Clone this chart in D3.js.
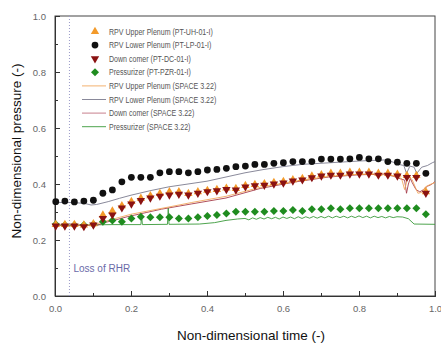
<!DOCTYPE html>
<html>
<head>
<meta charset="utf-8">
<script src="https://cdn.jsdelivr.net/npm/d3@7"></script>
<style>
  body { margin: 0; background: #fff; }
  svg text { font-family: "Liberation Sans", Arial, sans-serif; }
</style>
</head>
<body>
<div id="chart"></div>
<script>
// experiment sample times (non-dimensional)
const expTime = [0.002, 0.026, 0.051, 0.076, 0.101, 0.126, 0.151, 0.176, 0.201, 0.226,
  0.251, 0.276, 0.301, 0.326, 0.351, 0.376, 0.401, 0.426, 0.451, 0.476,
  0.501, 0.526, 0.551, 0.576, 0.601, 0.626, 0.651, 0.676, 0.701, 0.726,
  0.751, 0.776, 0.801, 0.826, 0.851, 0.876, 0.901, 0.926, 0.951, 0.976];

const upperPlenumExp = [0.255, 0.255, 0.255, 0.253, 0.258, 0.289, 0.303, 0.322, 0.337, 0.349,
  0.358, 0.366, 0.372, 0.372, 0.366, 0.372, 0.377, 0.380, 0.385, 0.384,
  0.394, 0.398, 0.401, 0.405, 0.409, 0.415, 0.419, 0.428, 0.433, 0.438,
  0.438, 0.442, 0.442, 0.442, 0.438, 0.438, 0.435, 0.430, 0.430, 0.372];

const lowerPlenumExp = [0.337, 0.339, 0.336, 0.339, 0.342, 0.367, 0.379, 0.408, 0.424, 0.424,
  0.424, 0.440, 0.444, 0.444, 0.440, 0.444, 0.450, 0.452, 0.456, 0.462,
  0.464, 0.470, 0.470, 0.474, 0.476, 0.480, 0.480, 0.480, 0.489, 0.489,
  0.489, 0.490, 0.495, 0.490, 0.490, 0.480, 0.478, 0.474, 0.474, 0.438];

const downcomerExp = [0.250, 0.250, 0.250, 0.248, 0.254, 0.277, 0.290, 0.315, 0.329, 0.341,
  0.350, 0.357, 0.361, 0.364, 0.361, 0.367, 0.373, 0.376, 0.381, 0.379,
  0.390, 0.394, 0.396, 0.400, 0.404, 0.411, 0.415, 0.423, 0.429, 0.432,
  0.432, 0.436, 0.436, 0.436, 0.432, 0.432, 0.429, 0.424, 0.424, 0.367];

const pressurizerExp = [0.256, 0.254, 0.254, 0.254, 0.256, 0.265, 0.270, 0.265, 0.277, 0.283,
  0.281, 0.281, 0.281, 0.277, 0.277, 0.281, 0.286, 0.289, 0.295, 0.301,
  0.301, 0.301, 0.301, 0.304, 0.304, 0.307, 0.304, 0.310, 0.310, 0.313,
  0.310, 0.313, 0.313, 0.313, 0.313, 0.313, 0.313, 0.313, 0.313, 0.292];

// SPACE 3.22 results, [time, pressure]
const upperPlenumCalc = [[0, 0.254], [0.1, 0.254], [0.13, 0.266], [0.17, 0.281], [0.2, 0.292],
  [0.25, 0.305], [0.3, 0.318], [0.36, 0.334], [0.45, 0.356], [0.54, 0.388], [0.63, 0.41],
  [0.72, 0.427], [0.8, 0.435], [0.865, 0.437], [0.89, 0.43], [0.912, 0.42], [0.92, 0.38],
  [0.93, 0.43], [0.94, 0.415], [0.955, 0.367], [0.965, 0.37], [0.975, 0.39], [0.99, 0.4], [1.0, 0.405]];

const lowerPlenumCalc = [[0, 0.334], [0.05, 0.334], [0.08, 0.33], [0.095, 0.325], [0.11, 0.327],
  [0.14, 0.337], [0.17, 0.349], [0.2, 0.36], [0.25, 0.376], [0.3, 0.39], [0.35, 0.4],
  [0.4, 0.41], [0.45, 0.425], [0.5, 0.44], [0.55, 0.452], [0.6, 0.462], [0.65, 0.47],
  [0.7, 0.474], [0.75, 0.478], [0.8, 0.482], [0.85, 0.485], [0.87, 0.486], [0.89, 0.478],
  [0.905, 0.47], [0.918, 0.466], [0.925, 0.438], [0.934, 0.464], [0.945, 0.46], [0.952, 0.438],
  [0.965, 0.46], [0.98, 0.466], [0.993, 0.476], [1.0, 0.48]];

const downcomerCalc = [[0, 0.252], [0.11, 0.252], [0.13, 0.262], [0.16, 0.272], [0.19, 0.283],
  [0.24, 0.298], [0.28, 0.31], [0.36, 0.329], [0.45, 0.35], [0.54, 0.384], [0.63, 0.407],
  [0.72, 0.425], [0.8, 0.433], [0.865, 0.435], [0.89, 0.428], [0.91, 0.418], [0.92, 0.414],
  [0.925, 0.367], [0.93, 0.4], [0.935, 0.42], [0.94, 0.405], [0.95, 0.38], [0.96, 0.372],
  [0.97, 0.38], [0.98, 0.392], [0.99, 0.398], [1.0, 0.408]];

const pressurizerCalc = [[0, 0.254], [0.1, 0.254], [0.15, 0.255], [0.2, 0.255], [0.226, 0.255],
  [0.228, 0.286], [0.23, 0.255], [0.296, 0.256], [0.298, 0.314], [0.3, 0.256], [0.38, 0.257],
  [0.42, 0.262], [0.45, 0.27], [0.48, 0.275], [0.5, 0.277], [0.51, 0.272], [0.52, 0.279],
  [0.53, 0.274], [0.54, 0.28], [0.55, 0.275], [0.56, 0.281], [0.57, 0.276], [0.58, 0.281],
  [0.59, 0.275], [0.6, 0.282], [0.61, 0.277], [0.62, 0.282], [0.63, 0.276], [0.64, 0.283],
  [0.65, 0.277], [0.66, 0.283], [0.67, 0.278], [0.68, 0.284], [0.69, 0.278], [0.7, 0.284],
  [0.71, 0.279], [0.72, 0.285], [0.73, 0.279], [0.74, 0.285], [0.75, 0.28], [0.76, 0.285],
  [0.77, 0.279], [0.78, 0.285], [0.79, 0.28], [0.8, 0.286], [0.81, 0.28], [0.82, 0.285],
  [0.83, 0.279], [0.84, 0.285], [0.85, 0.28], [0.86, 0.284], [0.87, 0.279], [0.88, 0.284],
  [0.89, 0.28], [0.9, 0.283], [0.915, 0.282], [0.93, 0.276], [0.945, 0.257], [1.0, 0.256]];

const legendLabels = [
  'RPV Upper Plenum (PT-UH-01-I)', 'RPV Lower Plenum (PT-LP-01-I)',
  'Down comer (PT-DC-01-I)', 'Pressurizer (PT-PZR-01-I)',
  'RPV Upper Plenum (SPACE 3.22)', 'RPV Lower Plenum (SPACE 3.22)',
  'Down comer (SPACE 3.22)', 'Pressurizer (SPACE 3.22)'
];
const eventTime = 0.038;

const W = 441, H = 343;
const margin = {left: 55, top: 16, right: 6, bottom: 47};
const iw = W - margin.left - margin.right;
const ih = H - margin.top - margin.bottom;

const svg = d3.select('#chart').append('svg')
  .attr('width', W).attr('height', H);

const x = d3.scaleLinear().domain([0, 1]).range([0, iw]);
const y = d3.scaleLinear().domain([0, 1]).range([ih, 0]);

const g = svg.append('g').attr('transform', `translate(${margin.left},${margin.top})`);

// frame
g.append('rect').attr('width', iw).attr('height', ih)
  .attr('fill', 'none').attr('stroke', '#444').attr('stroke-width', 1);

// loss of RHR marker
g.append('line')
  .attr('x1', x(eventTime)).attr('x2', x(eventTime))
  .attr('y1', 0).attr('y2', ih)
  .attr('stroke', '#9a9ac8').attr('stroke-width', 1).attr('stroke-dasharray', '1,2');
g.append('text')
  .attr('x', x(eventTime) + 4).attr('y', y(0.1) + 4)
  .style('font-size', '10px').style('fill', '#6a6aa8')
  .text('Loss of RHR');

// axes
const fmt = d3.format('.1f');
const major = [0, 0.2, 0.4, 0.6, 0.8, 1.0];
const minor = [0.1, 0.3, 0.5, 0.7, 0.9];

g.append('g').attr('transform', `translate(0,${ih})`)
  .call(d3.axisBottom(x).tickValues(major).tickFormat(fmt).tickSize(-5).tickPadding(9));
g.append('g').attr('transform', `translate(0,${ih})`)
  .call(d3.axisBottom(x).tickValues(minor).tickFormat('').tickSize(-3));
g.append('g')
  .call(d3.axisLeft(y).tickValues(major).tickFormat(fmt).tickSize(-5).tickPadding(9));
g.append('g')
  .call(d3.axisLeft(y).tickValues(minor).tickFormat('').tickSize(-3));

g.selectAll('.domain').attr('stroke', '#333');
g.selectAll('.tick line').attr('stroke', '#333');
g.selectAll('.tick text').style('font-size', '9.5px').style('fill', '#666');

svg.append('text')
  .attr('x', 251).attr('y', 340)
  .attr('text-anchor', 'middle')
  .style('font-size', '13.5px').style('fill', '#111')
  .text('Non-dimensional time (-)');
svg.append('text')
  .attr('transform', `translate(21,151) rotate(-90)`)
  .attr('text-anchor', 'middle')
  .style('font-size', '13.5px').style('fill', '#111')
  .text('Non-dimensional pressure (-)');

// calculation lines
const line = d3.line().x(d => x(d[0])).y(d => y(d[1]));
const calc = [
  {data: lowerPlenumCalc, color: '#7c7c8e'},
  {data: pressurizerCalc, color: '#3a9a3a'},
  {data: downcomerCalc, color: '#a63c4a'},
  {data: upperPlenumCalc, color: '#f2a860'}
];
calc.forEach(c => {
  g.append('path').datum(c.data)
    .attr('d', line)
    .attr('fill', 'none')
    .attr('stroke', c.color)
    .attr('stroke-width', 0.9);
});

// experiment markers
const sym = {
  up: d3.symbol().type(d3.symbolTriangle).size(30),
  circle: d3.symbol().type(d3.symbolCircle).size(36),
  down: d3.symbol().type(d3.symbolTriangle).size(30),
  diamond: d3.symbol().type(d3.symbolSquare).size(32)
};
const rotOf = {up: 0, circle: 0, down: 180, diamond: 45};
const exp = [
  {vals: pressurizerExp, shape: 'diamond', color: '#1f8c1f'},
  {vals: lowerPlenumExp, shape: 'circle', color: '#111'},
  {vals: upperPlenumExp, shape: 'up', color: '#f39a2a'},
  {vals: downcomerExp, shape: 'down', color: '#8a1212'}
];
exp.forEach(s => {
  g.selectAll(null)
    .data(s.vals)
    .enter().append('path')
    .attr('d', sym[s.shape]())
    .attr('transform', (d, i) => `translate(${x(expTime[i])},${y(d)}) rotate(${rotOf[s.shape]})`)
    .attr('fill', s.color);
});

// legend
const legItems = [
  {kind: 'up', color: '#f39a2a'},
  {kind: 'circle', color: '#111'},
  {kind: 'down', color: '#8a1212'},
  {kind: 'diamond', color: '#1f8c1f'},
  {kind: 'line', color: '#f2a860'},
  {kind: 'line', color: '#7c7c8e'},
  {kind: 'line', color: '#c27080'},
  {kind: 'line', color: '#3a9a3a'}
];
const leg = svg.append('g');
legItems.forEach((it, i) => {
  const ly = 31.5 + i * 13.6;
  if (it.kind === 'line') {
    leg.append('line').attr('x1', 82).attr('x2', 106).attr('y1', ly).attr('y2', ly)
      .attr('stroke', it.color).attr('stroke-width', 0.9);
  } else {
    leg.append('path').attr('d', sym[it.kind]())
      .attr('transform', `translate(95,${ly}) rotate(${rotOf[it.kind]})`)
      .attr('fill', it.color);
  }
  const t = leg.append('text').attr('x', 109).attr('y', ly + 3)
    .style('font-size', '8.5px').style('fill', '#555')
    .text(legendLabels[i]);
  // legend font in the original is condensed
  const len = t.node().getComputedTextLength();
  t.attr('textLength', len * 0.83).attr('lengthAdjust', 'spacingAndGlyphs');
});
</script>
</body>
</html>
